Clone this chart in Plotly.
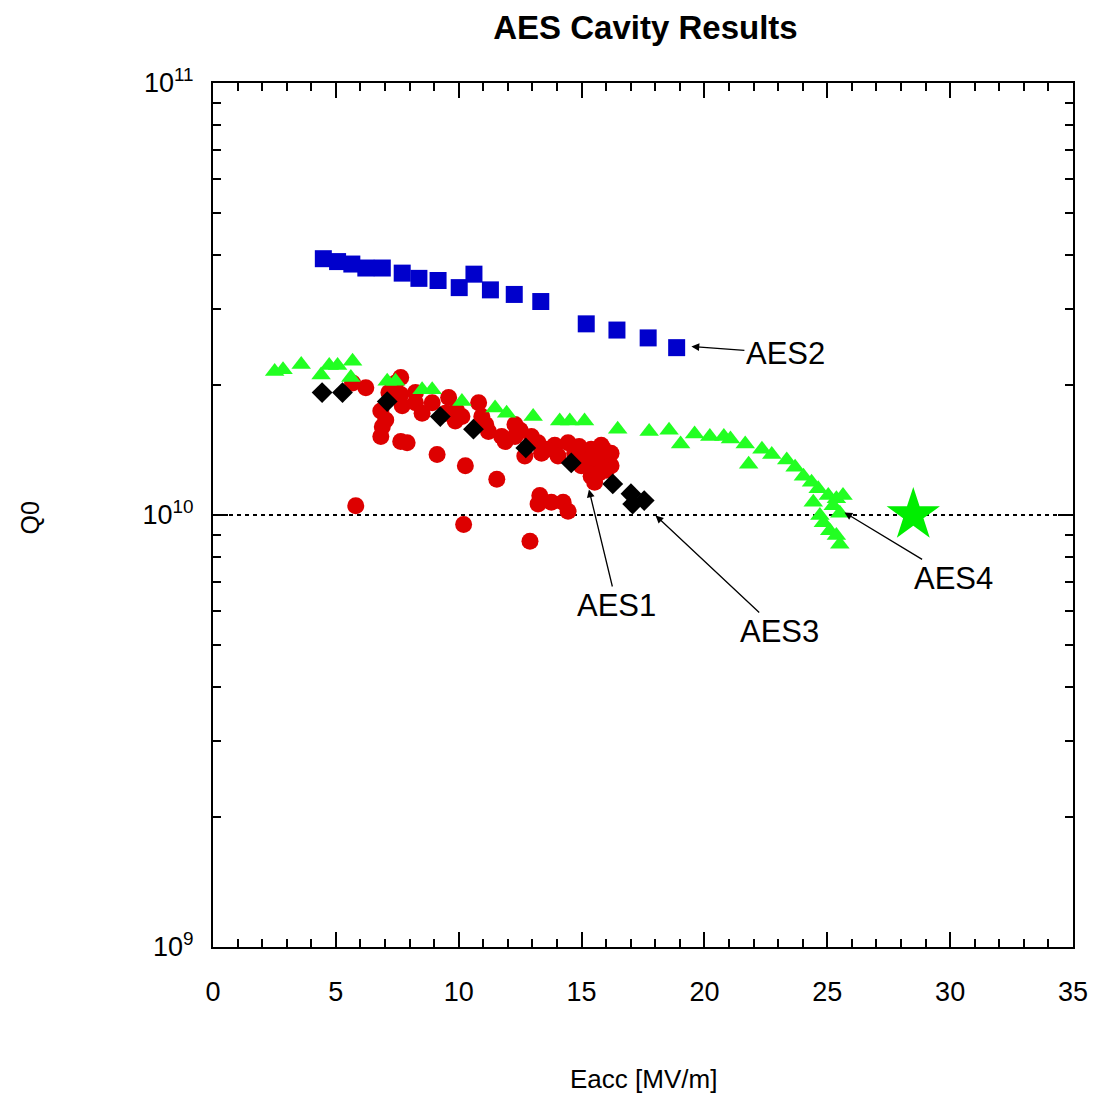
import plotly.graph_objects as go

# ---- data ----
aes2_x = [4.49, 5.07, 5.65, 6.22, 6.89, 7.70, 8.38, 9.16, 10.02, 10.62, 11.29, 12.26, 13.34, 15.19, 16.44, 17.71, 18.87]
aes2_q = [3.92e10, 3.86e10, 3.81e10, 3.73e10, 3.73e10, 3.63e10, 3.53e10, 3.49e10, 3.36e10, 3.61e10, 3.32e10,
          3.24e10, 3.12e10, 2.77e10, 2.68e10, 2.57e10, 2.44e10]

aes4_x = [2.51, 2.85, 3.59, 4.40, 4.73, 5.07, 5.68, 5.61, 7.09, 7.43, 8.51, 8.92, 10.13, 11.48, 11.95, 13.03,
          14.11, 14.52, 15.12, 16.47, 17.75, 18.56, 19.03, 19.60, 20.22, 20.79, 21.06, 21.66, 21.80, 22.34,
          22.74, 23.35, 23.69, 24.03, 24.36, 24.63, 25.04, 25.37, 24.43, 25.24, 24.70, 24.84, 25.10, 25.51,
          25.37, 25.51, 25.64]
aes4_q = [2.15e10, 2.17e10, 2.23e10, 2.11e10, 2.22e10, 2.22e10, 2.27e10, 2.08e10, 2.04e10, 2.04e10, 1.95e10,
          1.95e10, 1.83e10, 1.77e10, 1.72e10, 1.69e10, 1.65e10, 1.65e10, 1.65e10, 1.58e10, 1.56e10, 1.57e10,
          1.46e10, 1.54e10, 1.52e10, 1.52e10, 1.50e10, 1.46e10, 1.31e10, 1.42e10, 1.38e10, 1.34e10, 1.29e10,
          1.23e10, 1.19e10, 1.15e10, 1.11e10, 1.09e10, 1.07e10, 1.05e10, 9.97e9, 9.60e9, 9.19e9, 8.56e9,
          8.96e9, 1.01e10, 1.11e10]

aes3_x = [4.44, 5.27, 7.09, 9.25, 10.60, 12.73, 14.58, 16.27, 17.01, 17.08, 17.55]
aes3_q = [1.92e10, 1.92e10, 1.83e10, 1.69e10, 1.58e10, 1.43e10, 1.32e10, 1.18e10, 1.12e10, 1.06e10, 1.08e10]

aes1_x = [5.81, 6.22, 5.68, 6.83, 6.89, 6.83, 7.03, 7.64, 7.90, 9.12, 10.27, 11.55, 10.20, 12.90, 13.30, 13.23,
          14.25, 14.45, 13.77, 7.43, 7.16, 7.64, 7.70, 8.24, 8.51, 8.92, 9.59, 9.46, 9.86, 10.13, 10.81, 10.94,
          11.21, 11.75, 11.89, 12.29, 12.29, 12.96, 12.69, 13.23, 13.37, 13.91, 14.04, 14.45, 14.72, 14.99,
          15.39, 15.39, 15.80, 15.93, 16.20, 16.20, 15.26, 15.53, 7.64, 8.24,
          15.60, 15.90, 16.00, 15.70, 15.20, 14.90, 13.60, 12.50, 11.10, 9.90]
aes1_q = [1.05e10, 1.97e10, 2.02e10, 1.74e10, 1.60e10, 1.52e10, 1.66e10, 1.48e10, 1.47e10, 1.38e10, 1.30e10,
          1.21e10, 9.51e9, 8.69e9, 1.11e10, 1.06e10, 1.07e10, 1.02e10, 1.07e10, 2.02e10, 1.92e10, 1.90e10,
          1.79e10, 1.82e10, 1.72e10, 1.82e10, 1.87e10, 1.72e10, 1.65e10, 1.69e10, 1.82e10, 1.69e10, 1.56e10,
          1.52e10, 1.48e10, 1.62e10, 1.52e10, 1.52e10, 1.37e10, 1.47e10, 1.39e10, 1.45e10, 1.37e10, 1.47e10,
          1.39e10, 1.30e10, 1.42e10, 1.23e10, 1.45e10, 1.34e10, 1.39e10, 1.30e10, 1.30e10, 1.19e10, 2.08e10,
          1.92e10,
          1.35e10, 1.42e10, 1.27e10, 1.25e10, 1.37e10, 1.44e10, 1.42e10, 1.57e10, 1.62e10, 1.75e10]

star_x = [28.5]
star_q = [1.0e10]

target_q = 1e10

y_tickvals = [1e9, 1e10, 1e11]
y_ticktext = ["10<sup>9</sup>", "10<sup>10</sup>", "10<sup>11</sup>"]
y_minor = [m * 10 ** e for e in (9, 10) for m in range(2, 10)]

# label name, tip x, tip log10(Q), text offset px
labels = [
    ("AES2", 19.47, 10.390, 94, 7),
    ("AES1", 15.30, 10.059, 28, 116),
    ("AES3", 18.01, 9.999, 124, 116),
    ("AES4", 25.70, 10.006, 109, 66),
]

FONT = "Liberation Sans, Arial, sans-serif"

fig = go.Figure()
fig.add_trace(go.Scatter(x=aes1_x, y=aes1_q, mode="markers",
                         marker=dict(symbol="circle", size=17, color="#DD0000")))
fig.add_trace(go.Scatter(x=aes4_x, y=aes4_q, mode="markers",
                         marker=dict(symbol="triangle-up", size=17, color="#22FF22")))
fig.add_trace(go.Scatter(x=aes3_x, y=aes3_q, mode="markers",
                         marker=dict(symbol="diamond", size=16, color="black")))
fig.add_trace(go.Scatter(x=aes2_x, y=aes2_q, mode="markers",
                         marker=dict(symbol="square", size=17, color="#0000CC")))
fig.add_trace(go.Scatter(x=star_x, y=star_q, mode="markers",
                         marker=dict(symbol="star", size=40, color="#00EE00")))

fig.add_shape(type="line", xref="paper", x0=0, x1=1, yref="y", y0=target_q, y1=target_q,
              line=dict(color="black", width=2, dash="4px,4px"), layer="below")

for name, tx, ty, ax, ay in labels:
    fig.add_annotation(x=tx, y=ty, xref="x", yref="y", text=name, ax=ax, ay=ay,
                       showarrow=True, arrowhead=2, arrowsize=1.2, arrowwidth=1.3, arrowcolor="black",
                       font=dict(family=FONT, size=31, color="black"))

fig.add_annotation(text="Eacc [MV/m]", xref="paper", yref="paper", x=0.5, y=-0.153,
                   xanchor="center", yanchor="middle", showarrow=False,
                   font=dict(family=FONT, size=26, color="black"))
fig.add_annotation(text="Q0", xref="paper", yref="paper", x=-0.213, y=0.497,
                   xanchor="center", yanchor="middle", showarrow=False, textangle=-90,
                   font=dict(family=FONT, size=25, color="black"))

axis_common = dict(showgrid=False, zeroline=False, showline=True, linecolor="black", linewidth=2,
                   mirror="ticks", ticks="inside", tickcolor="black", tickwidth=1.5, ticklen=15,
                   tickfont=dict(family=FONT, size=27, color="black"))

fig.update_xaxes(range=[0, 35], dtick=5, tick0=0,
                 minor=dict(dtick=1, ticks="inside", ticklen=8, tickcolor="black", tickwidth=1.5),
                 ticklabelstandoff=20, **axis_common)
fig.update_yaxes(type="log", range=[9, 11], tickvals=y_tickvals, ticktext=y_ticktext,
                 minor=dict(tickvals=y_minor, ticks="inside", ticklen=8, tickcolor="black", tickwidth=1.5),
                 ticklabelstandoff=12, **axis_common)

fig.update_layout(
    width=1100, height=1097,
    margin=dict(l=213, r=18, t=83, b=150),
    paper_bgcolor="white", plot_bgcolor="white",
    showlegend=False,
    title=dict(text="<b>AES Cavity Results</b>", x=(213 + 1078) / 2 / 1100, xanchor="center",
               y=1 - 27 / 1097, yanchor="middle",
               font=dict(family=FONT, size=33, color="black")),
)

fig.write_html("out.html")
